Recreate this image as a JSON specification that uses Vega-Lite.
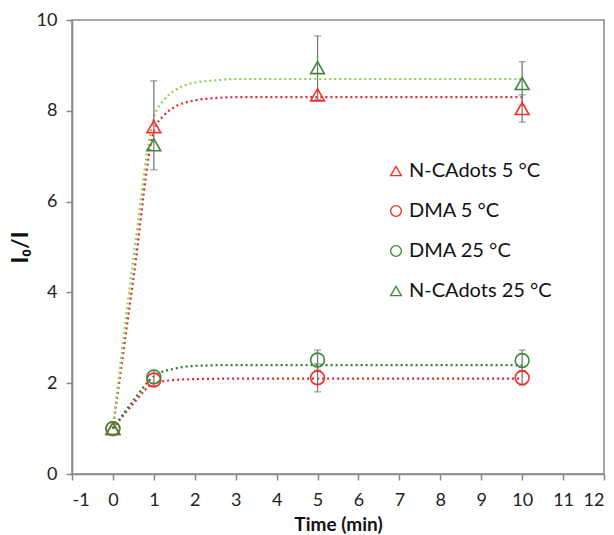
{
  "$schema": "https://vega.github.io/schema/vega-lite/v6.json",
  "autosize": {"type": "none"},
  "width": 532,
  "height": 454,
  "padding": {"left": 72, "top": 20, "right": 10, "bottom": 61},
  "background": "white",
  "config": {
    "font": "Lato",
    "view": {"stroke": "#8a8a8a", "strokeWidth": 1.5},
    "axis": {
      "domainColor": "#8a8a8a", "domainWidth": 1.5, "tickColor": "#8a8a8a", "tickWidth": 1.5, "tickSize": 6,
      "grid": false, "labelFont": "Lato", "labelFontSize": 18, "labelColor": "#222222",
      "titleFont": "Lato", "titleFontWeight": "bold", "titleColor": "#111111"
    }
  },
  "datasets": {
    "pts": [
      {"series": "N-CAdots 5 °C", "t": 0, "v": 1.0},
      {"series": "N-CAdots 5 °C", "t": 1, "v": 7.65},
      {"series": "N-CAdots 5 °C", "t": 5, "v": 8.35},
      {"series": "N-CAdots 5 °C", "t": 10, "v": 8.05},
      {"series": "N-CAdots 25 °C", "t": 0, "v": 1.0},
      {"series": "N-CAdots 25 °C", "t": 1, "v": 7.25},
      {"series": "N-CAdots 25 °C", "t": 5, "v": 8.95},
      {"series": "N-CAdots 25 °C", "t": 10, "v": 8.6},
      {"series": "DMA 5 °C", "t": 0, "v": 1.0},
      {"series": "DMA 5 °C", "t": 1, "v": 2.07},
      {"series": "DMA 5 °C", "t": 5, "v": 2.12},
      {"series": "DMA 5 °C", "t": 10, "v": 2.12},
      {"series": "DMA 25 °C", "t": 0, "v": 1.0},
      {"series": "DMA 25 °C", "t": 1, "v": 2.14},
      {"series": "DMA 25 °C", "t": 5, "v": 2.51},
      {"series": "DMA 25 °C", "t": 10, "v": 2.5}
    ],
    "err": [
      {"t": 1, "lo": 6.7, "hi": 8.66},
      {"t": 5, "lo": 8.25, "hi": 9.65},
      {"t": 10, "lo": 8.12, "hi": 9.08},
      {"t": 10, "lo": 7.75, "hi": 8.35},
      {"t": 1, "lo": 1.95, "hi": 2.28},
      {"t": 5, "lo": 2.29, "hi": 2.73},
      {"t": 5, "lo": 1.81, "hi": 2.43},
      {"t": 10, "lo": 2.27, "hi": 2.73},
      {"t": 10, "lo": 1.96, "hi": 2.28}
    ],
    "fits": [
      {"fit": "N-CAdots 5 °C", "t": 0, "v": 1.0},
      {"fit": "N-CAdots 5 °C", "t": 0.5, "v": 4.3},
      {"fit": "N-CAdots 5 °C", "t": 1, "v": 7.55},
      {"fit": "N-CAdots 5 °C", "t": 1.25, "v": 7.9},
      {"fit": "N-CAdots 5 °C", "t": 1.5, "v": 8.08},
      {"fit": "N-CAdots 5 °C", "t": 2, "v": 8.23},
      {"fit": "N-CAdots 5 °C", "t": 2.5, "v": 8.28},
      {"fit": "N-CAdots 5 °C", "t": 3, "v": 8.3},
      {"fit": "N-CAdots 5 °C", "t": 5, "v": 8.3},
      {"fit": "N-CAdots 5 °C", "t": 10, "v": 8.3},
      {"fit": "N-CAdots 25 °C", "t": 0, "v": 1.0},
      {"fit": "N-CAdots 25 °C", "t": 0.5, "v": 4.75},
      {"fit": "N-CAdots 25 °C", "t": 1, "v": 7.85},
      {"fit": "N-CAdots 25 °C", "t": 1.25, "v": 8.24},
      {"fit": "N-CAdots 25 °C", "t": 1.5, "v": 8.44},
      {"fit": "N-CAdots 25 °C", "t": 2, "v": 8.62},
      {"fit": "N-CAdots 25 °C", "t": 2.5, "v": 8.67},
      {"fit": "N-CAdots 25 °C", "t": 3, "v": 8.7},
      {"fit": "N-CAdots 25 °C", "t": 5, "v": 8.7},
      {"fit": "N-CAdots 25 °C", "t": 10, "v": 8.7},
      {"fit": "DMA 5 °C", "t": 0, "v": 1.0},
      {"fit": "DMA 5 °C", "t": 0.5, "v": 1.55},
      {"fit": "DMA 5 °C", "t": 1, "v": 2.0},
      {"fit": "DMA 5 °C", "t": 1.5, "v": 2.07},
      {"fit": "DMA 5 °C", "t": 2, "v": 2.09},
      {"fit": "DMA 5 °C", "t": 3, "v": 2.1},
      {"fit": "DMA 5 °C", "t": 5, "v": 2.1},
      {"fit": "DMA 5 °C", "t": 10, "v": 2.1},
      {"fit": "DMA 25 °C", "t": 0, "v": 1.0},
      {"fit": "DMA 25 °C", "t": 0.5, "v": 1.62},
      {"fit": "DMA 25 °C", "t": 1, "v": 2.15},
      {"fit": "DMA 25 °C", "t": 1.5, "v": 2.32},
      {"fit": "DMA 25 °C", "t": 2, "v": 2.38},
      {"fit": "DMA 25 °C", "t": 3, "v": 2.4},
      {"fit": "DMA 25 °C", "t": 5, "v": 2.4},
      {"fit": "DMA 25 °C", "t": 10, "v": 2.4}
    ]
  },
  "encoding": {
    "x": {
      "type": "quantitative",
      "scale": {"domain": [-1, 12], "nice": false, "zero": false},
      "axis": {"title": "Time (min)", "values": [-1,0,1,2,3,4,5,6,7,8,9,10,11,12], "labelExpr": "'' + datum.value", "titleFontSize": 19, "labelPadding": 11, "titlePadding": 6}
    },
    "y": {
      "type": "quantitative",
      "scale": {"domain": [0, 10], "nice": false},
      "axis": {"title": "I₀/I", "values": [0,2,4,6,8,10], "titleFontSize": 23, "labelPadding": 9, "titlePadding": 4}
    }
  },
  "layer": [
    {
      "data": {"name": "fits"},
      "mark": {"type": "line", "interpolate": "monotone", "strokeDash": [2, 3], "strokeWidth": 2.2},
      "encoding": {
        "x": {"field": "t", "type": "quantitative"},
        "y": {"field": "v", "type": "quantitative"},
        "detail": {"field": "fit"},
        "stroke": {
          "field": "fit", "type": "nominal", "legend": null,
          "scale": {"domain": ["N-CAdots 5 °C", "N-CAdots 25 °C", "DMA 5 °C", "DMA 25 °C"], "range": ["#e3262e", "#92cf50", "#e3262e", "#2a7f2e"]}
        }
      }
    },
    {
      "data": {"name": "err"},
      "mark": {"type": "rule", "color": "#7a7a7a", "strokeWidth": 1.3},
      "encoding": {
        "x": {"field": "t", "type": "quantitative"},
        "y": {"field": "lo", "type": "quantitative"},
        "y2": {"field": "hi"}
      }
    },
    {
      "data": {"name": "err"},
      "mark": {"type": "tick", "orient": "horizontal", "color": "#7a7a7a", "size": 7, "thickness": 1.3},
      "encoding": {
        "x": {"field": "t", "type": "quantitative"},
        "y": {"field": "lo", "type": "quantitative"}
      }
    },
    {
      "data": {"name": "err"},
      "mark": {"type": "tick", "orient": "horizontal", "color": "#7a7a7a", "size": 7, "thickness": 1.3},
      "encoding": {
        "x": {"field": "t", "type": "quantitative"},
        "y": {"field": "hi", "type": "quantitative"}
      }
    },
    {
      "data": {"name": "pts"},
      "mark": {"type": "point", "filled": false, "strokeWidth": 1.6, "size": 190, "opacity": 1},
      "encoding": {
        "x": {"field": "t", "type": "quantitative"},
        "y": {"field": "v", "type": "quantitative"},
        "color": {
          "field": "series", "type": "nominal",
          "scale": {"domain": ["N-CAdots 5 °C", "DMA 5 °C", "DMA 25 °C", "N-CAdots 25 °C"], "range": ["#ff2a2a", "#ff2a2a", "#3a8a3c", "#3a8a3c"]},
          "legend": {
            "title": null, "orient": "none", "legendX": 314, "legendY": 141,
            "labelFontSize": 20, "labelColor": "#111111", "labelFont": "Lato", "symbolSize": 115,
            "symbolStrokeWidth": 1.3, "rowPadding": 20, "labelOffset": 3, "symbolFillColor": "transparent"
          }
        },
        "shape": {
          "field": "series", "type": "nominal",
          "scale": {"domain": ["N-CAdots 5 °C", "DMA 5 °C", "DMA 25 °C", "N-CAdots 25 °C"], "range": ["triangle-up", "circle", "circle", "triangle-up"]},
          "legend": {
            "title": null, "orient": "none", "legendX": 314, "legendY": 141,
            "labelFontSize": 20, "labelColor": "#111111", "labelFont": "Lato", "symbolSize": 115,
            "symbolStrokeWidth": 1.3, "rowPadding": 20, "labelOffset": 3, "symbolFillColor": "transparent"
          }
        }
      }
    }
  ]
}
